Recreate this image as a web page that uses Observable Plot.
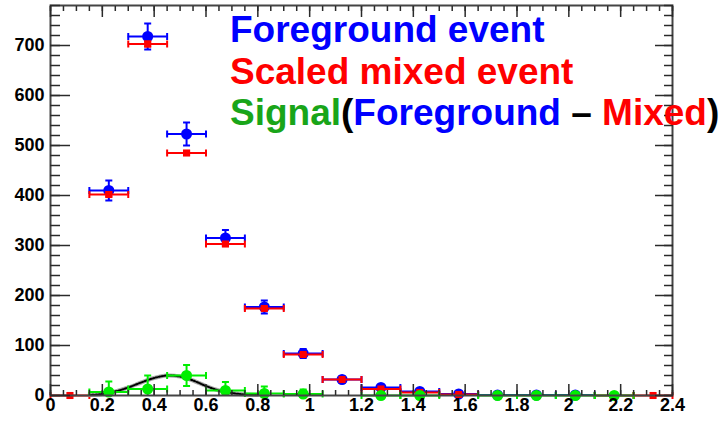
<!DOCTYPE html>
<html><head><meta charset="utf-8">
<script src="https://cdn.jsdelivr.net/npm/d3@7"></script>
<script src="https://cdn.jsdelivr.net/npm/@observablehq/plot@0.6"></script>
<style>html,body{margin:0;padding:0;background:#fff;} svg{display:block;}</style>
</head><body><div id="chart"></div>
<script>
// ---- data ----
const binHalfWidth = 0.075;
const foregroundX   = [0.225, 0.375, 0.525, 0.675, 0.825, 0.975, 1.125, 1.275, 1.425, 1.575, 1.725, 1.875, 2.025];
const foregroundY   = [410, 718, 523, 315, 177, 84, 32, 16, 8, 3, 1, 1, 1];
const foregroundErr = [20, 26, 23, 16, 13, 9, 6, 4, 3, 2, 1, 1, 1];

const mixedX   = [0.075, 0.225, 0.375, 0.525, 0.675, 0.825, 0.975, 1.125, 1.275, 1.425, 1.575, 2.175, 2.325];
const mixedY   = [0, 402, 703, 485, 303, 174, 82, 32, 13, 6, 2, 0, 0];
const mixedErr = [0, 4, 5, 4, 3, 3, 2, 1, 1, 1, 0.5, 0, 0];

const signalX   = [0.225, 0.375, 0.525, 0.675, 0.825, 0.975, 1.275, 1.425, 1.725, 1.875, 2.025, 2.175];
const signalY   = [7, 13, 40, 10, 4, 3, 0, 0, 0, 0, 0, 0];
const signalErr = [21, 27, 21, 17, 14, 9, 4, 3, 1, 1, 1, 0];

const fitX = [0.15, 0.2, 0.25, 0.3, 0.35, 0.4, 0.45, 0.5, 0.55, 0.6, 0.65, 0.7, 0.75, 0.8];
const fitY = [1, 3, 8, 16, 26, 35, 40, 38, 30, 19, 10, 5, 2, 1];

const xTicks = [0, 0.2, 0.4, 0.6, 0.8, 1, 1.2, 1.4, 1.6, 1.8, 2, 2.2, 2.4];
const xTickLabels = ["0", "0.2", "0.4", "0.6", "0.8", "1", "1.2", "1.4", "1.6", "1.8", "2", "2.2", "2.4"];
const yTicks = [0, 100, 200, 300, 400, 500, 600, 700];
const yTickLabels = ["0", "100", "200", "300", "400", "500", "600", "700"];

const legendLine1 = [["Foreground event", "#0000ff"]];
const legendLine2 = [["Scaled mixed event", "#ff0000"]];
const legendLine3 = [["Signal", "#19a519"], ["(", "#000000"], ["Foreground", "#0000ff"], [" \u2013 ", "#000000"], ["Mixed", "#ff0000"], [")", "#000000"]];

// ---- helpers ----
const rows = (xs, ys, es) => xs.map((x, i) => ({x, y: ys[i], e: es[i]}));
const foreground = rows(foregroundX, foregroundY, foregroundErr);
const mixed = rows(mixedX, mixedY, mixedErr);
const signal = rows(signalX, signalY, signalErr);
const fit = fitX.map((x, i) => ({x, y: fitY[i]}));

const Y_MAX = 780;
const capH = {draw(ctx) { ctx.moveTo(-3.5, 0); ctx.lineTo(3.5, 0); }};
const capV = {draw(ctx) { ctx.moveTo(0, -3.5); ctx.lineTo(0, 3.5); }};

function series(data, color, symbol, r) {
  const withErr = data.filter(d => d.e > 1);
  const capsUp = withErr.map(d => ({x: d.x, y: d.y + d.e}));
  const capsDown = withErr.filter(d => d.y - d.e >= 0).map(d => ({x: d.x, y: d.y - d.e}));
  return [
    Plot.ruleY(data, {y: "y", x1: d => d.x - binHalfWidth, x2: d => d.x + binHalfWidth, stroke: color, strokeWidth: 2}),
    Plot.dot(data, {x: d => d.x - binHalfWidth, y: "y", symbol: capV, stroke: color, strokeWidth: 2, fill: "none"}),
    Plot.dot(data, {x: d => d.x + binHalfWidth, y: "y", symbol: capV, stroke: color, strokeWidth: 2, fill: "none"}),
    Plot.ruleX(withErr, {x: "x", y1: d => Math.max(0, d.y - d.e), y2: d => d.y + d.e, stroke: color, strokeWidth: 2}),
    Plot.dot(capsUp, {x: "x", y: "y", symbol: capH, stroke: color, strokeWidth: 2, fill: "none"}),
    Plot.dot(capsDown, {x: "x", y: "y", symbol: capH, stroke: color, strokeWidth: 2, fill: "none"}),
    Plot.dot(data, {x: "x", y: "y", symbol, r, fill: color, stroke: "none"})
  ];
}

const xMinor = d3.range(0, 49).map(i => i * 0.05);
const yMinor = d3.range(0, 40).map(i => i * 20);
const axisColor = "#2a2a2a";

const chart = Plot.plot({
  width: 726, height: 421,
  marginLeft: 50, marginRight: 54, marginTop: 5, marginBottom: 26,
  style: {fontFamily: "'Liberation Sans', Arial, sans-serif", background: "#fff"},
  x: {domain: [0, 2.4], label: null},
  y: {domain: [0, Y_MAX], label: null},
  marks: [
    ...series(foreground, "#0000ff", "circle", 5.5),
    ...series(mixed, "#ff0000", "square", 4),
    Plot.line(fit, {x: "x", y: "y", curve: "catmull-rom", stroke: "#aaa", strokeWidth: 4}),
    Plot.line(fit, {x: "x", y: "y", curve: "catmull-rom", stroke: "#000", strokeWidth: 2, strokeDasharray: "1.5,1.5"}),
    ...series(signal, "#00ee00", "circle", 5.5),
    Plot.frame({stroke: "#444", strokeWidth: 2}),
    // tick marks pointing inward
    Plot.axisY({anchor: "left", ticks: yMinor, tickSize: -10, tickFormat: () => "", stroke: axisColor, strokeWidth: 1.5}),
    Plot.axisY({anchor: "left", ticks: yTicks, tickSize: -20, tickFormat: () => "", stroke: axisColor, strokeWidth: 1.5}),
    Plot.axisY({anchor: "right", ticks: yMinor, tickSize: -9, tickFormat: () => "", stroke: axisColor, strokeWidth: 1.5}),
    Plot.axisY({anchor: "right", ticks: yTicks, tickSize: -18, tickFormat: () => "", stroke: axisColor, strokeWidth: 1.5}),
    Plot.axisX({anchor: "bottom", ticks: xMinor, tickSize: -5, tickFormat: () => "", stroke: axisColor, strokeWidth: 1.5}),
    Plot.axisX({anchor: "bottom", ticks: xTicks, tickSize: -11, tickFormat: () => "", stroke: axisColor, strokeWidth: 1.5}),
    Plot.axisX({anchor: "top", ticks: xMinor, tickSize: -5, tickFormat: () => "", stroke: axisColor, strokeWidth: 1.5}),
    Plot.axisX({anchor: "top", ticks: xTicks, tickSize: -11, tickFormat: () => "", stroke: axisColor, strokeWidth: 1.5}),
    // labels
    Plot.axisY({anchor: "left", ticks: yTicks, tickSize: 0, tickPadding: 6, tickFormat: d => yTickLabels[yTicks.indexOf(d)], fontSize: 18, fontWeight: "bold", fill: "#000"}),
    Plot.axisX({anchor: "bottom", ticks: xTicks, tickSize: 0, tickPadding: 3, tickFormat: d => xTickLabels[xTicks.indexOf(d)], fontSize: 18, fontWeight: "bold", fill: "#000"})
  ]
});
document.getElementById("chart").appendChild(chart);

const svg = d3.select(chart);

// legend text inside the frame, beneath the frame/axes
const legend = svg.insert("g", "g[aria-label='frame']")
  .attr("font-family", "'Liberation Sans', Arial, sans-serif")
  .attr("font-weight", "bold")
  .attr("text-anchor", "start");
[[legendLine1, 42], [legendLine2, 84], [legendLine3, 125]].forEach(([segs, y]) => {
  const t = legend.append("text").attr("x", 230).attr("y", y).attr("text-anchor", "start")
    .style("white-space", "pre").style("font-size", "37px");
  segs.forEach(([s, c]) => t.append("tspan").attr("fill", c).text(s));
});
</script>
</body></html>
